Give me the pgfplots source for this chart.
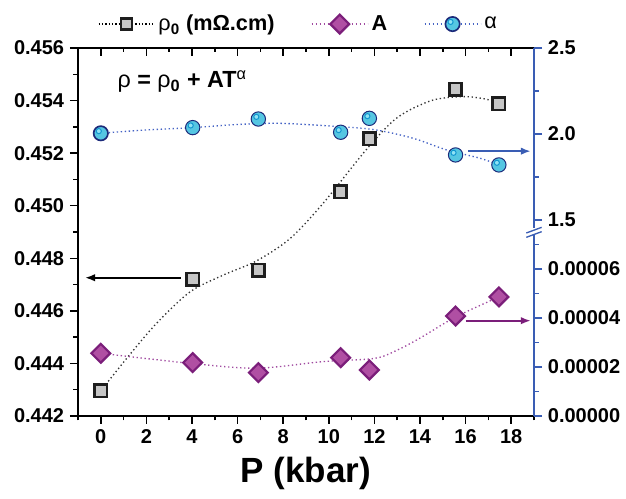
\documentclass[border=0pt]{standalone}
\usepackage{pgfplots}
\pgfplotsset{compat=1.18}
\usetikzlibrary{arrows.meta}
\usepackage{fontspec}
\setmainfont{Liberation Sans}
\definecolor{axblue}{HTML}{3A5DB4}
\definecolor{sqfill}{HTML}{C6C6C6}
\definecolor{sqdraw}{HTML}{1E1E1E}
\definecolor{dmfill}{HTML}{B04FA3}
\definecolor{dmdraw}{HTML}{7B1E7A}
\definecolor{cifill}{HTML}{55C6E2}
\definecolor{cidraw}{HTML}{1C2A7A}
\definecolor{cihi}{HTML}{1296D0}
\definecolor{cilight}{HTML}{8FE3F5}
\definecolor{alcurve}{HTML}{4462C4}
\definecolor{acurve}{HTML}{A04AA0}

\pgfdeclareplotmark{alph}{%
  \pgfpathcircle{\pgfpointorigin}{\pgfplotmarksize}%
  \pgfsetfillcolor{cifill}\pgfsetstrokecolor{cidraw}%
  \pgfusepath{fill,stroke}%
  \pgfsetlinewidth{0.6pt}%
  \pgfpathcircle{\pgfpoint{-0.28\pgfplotmarksize}{0.3\pgfplotmarksize}}{0.36\pgfplotmarksize}%
  \pgfsetfillcolor{cilight}\pgfsetstrokecolor{cihi}%
  \pgfusepath{fill,stroke}%
}

\tikzset{arr/.style={-{Latex[length=6pt,width=4.5pt]}, line width=1.1pt}}
\pgfplotsset{
  rhomark/.style={only marks, mark=square*, mark size=3.7pt, mark options={solid, fill=sqfill, draw=sqdraw, line width=1.6pt}},
  amark/.style={only marks, mark=square*, mark size=4.0pt, mark options={solid, rotate=45, fill=dmfill, draw=dmdraw, line width=1.3pt}},
  almark/.style={only marks, mark=alph, mark size=4.3pt, mark options={solid, line width=1.0pt}},
  dotline/.style={no marks, smooth, line width=0.8pt, dash pattern=on 0.8pt off 1.6pt},
  base/.style={width=273.6pt, scale only axis, xmin=-1, xmax=19,
    ticklabel style={font=\bfseries\fontsize{12}{14}\selectfont, black},
    /pgf/number format/assume math mode=true,
    scaled y ticks=false, major tick length=4.8pt, minor tick length=2.7pt,
    clip=false},
}

\begin{document}
\begin{tikzpicture}
\path[use as bounding box] (-46.8pt,-49.8pt) rectangle (328.8pt,249.6pt);

% main (left) axis
\begin{axis}[base, at={(0pt,0pt)}, anchor=south west, height=220.8pt,
  ymin=0.442, ymax=0.456,
  axis x line*=bottom, axis y line*=left,
  axis line style={black, line width=0.9pt, -},
  tick align=outside, tick style={black, line width=0.9pt},
  xtick={0,2,4,6,8,10,12,14,16,18}, minor xtick={-1,1,3,5,7,9,11,13,15,17,19},
  ytick={0.442,0.444,0.446,0.448,0.450,0.452,0.454,0.456},
  minor ytick={0.443,0.445,0.447,0.449,0.451,0.453,0.455},
  yticklabel style={/pgf/number format/.cd, fixed, fixed zerofill, precision=3},
  xlabel={P (kbar)},
  xlabel style={at={(axis description cs:0.5,-0.155)}, anchor=center, font=\bfseries\fontsize{21}{24}\selectfont},
  legend columns=3,
  legend style={at={(axis description cs:0.485,1.065)}, anchor=center, draw=none, fill=none,
    font=\bfseries\fontsize{13}{15}\selectfont, inner sep=0pt,
    /tikz/every even column/.append style={column sep=20pt}},
  legend cell align=left,
  legend image code/.code={\draw[mark repeat=2,mark phase=2] plot coordinates {(0pt,0pt)(16.8pt,0pt)(33.6pt,0pt)};},
]
\addlegendimage{black, line width=0.7pt, dash pattern=on 0.8pt off 1.2pt, mark=square*, mark size=3.4pt, mark options={solid, fill=sqfill, draw=sqdraw, line width=1.5pt}}
\addlegendentry{{\mdseries ρ}\textsubscript{0} (mΩ.cm)}
\addlegendimage{acurve, line width=0.7pt, dash pattern=on 0.8pt off 1.6pt, mark=square*, mark size=4.0pt, mark options={solid, rotate=45, fill=dmfill, draw=dmdraw, line width=1.3pt}}
\addlegendentry{A}
\addlegendimage{alcurve, line width=0.7pt, dash pattern=on 0.8pt off 1.6pt, mark=alph, mark size=4.3pt, mark options={solid, line width=1.0pt}}
\addlegendentry{{\mdseries α}}

\addplot[dotline, black!80, forget plot] coordinates {
(0,0.44296)(1.2,0.44426)(2.45,0.44553)(3.91,0.44672)(5.37,0.44736)(6.83,0.44790)(8.3,0.44875)(9.75,0.45009)(11.66,0.45215)(13.0,0.45335)(14.5,0.45400)(15.8,0.45415)(16.6,0.45410)(17.46,0.45394)};
\addplot[rhomark, forget plot] coordinates {
(0,0.44296)(4.03,0.44720)(6.91,0.44755)(10.52,0.45053)(11.78,0.45254)(15.56,0.45444)(17.46,0.45387)};
\draw[arr, black] (axis cs:3.5,0.44726) -- (axis cs:-0.69,0.44726);
\node[anchor=base west, inner sep=0pt, font=\bfseries\fontsize{14}{16}\selectfont] at (axis cs:0.72,0.45448)
  {{\mdseries ρ} = {\mdseries ρ}\textsubscript{0} + AT\textsuperscript{\mdseries α}};
\end{axis}

% top axis ticks
\begin{axis}[base, at={(0pt,0pt)}, anchor=south west, height=220.8pt,
  ymin=0, ymax=1, axis y line=none, axis x line*=top,
  axis line style={black, line width=0.9pt, -},
  tick align=inside, tick style={black, line width=0.9pt},
  xtick={0,2,4,6,8,10,12,14,16,18}, minor xtick={-1,1,3,5,7,9,11,13,15,17,19},
  xticklabels={}]
\end{axis}

% lower right axis (A)
\begin{axis}[base, at={(0pt,0pt)}, anchor=south west, height=110.4pt,
  ymin=0, ymax=7.51e-5, axis x line=none, axis y line*=right,
  axis line style={axblue, line width=0.9pt, -},
  tick align=outside, tick style={axblue, line width=0.9pt},
  ytick={0,2e-5,4e-5,6e-5}, minor ytick={1e-5,3e-5,5e-5,7e-5},
  yticklabel style={/pgf/number format/.cd, fixed, fixed zerofill, precision=5}]
\addplot[dotline, acurve] coordinates {
(0,2.56e-5)(3.91,2.15e-5)(6.83,1.95e-5)(9.75,2.22e-5)(12.0,2.35e-5)(13.0,2.69e-5)(14.0,3.18e-5)(15.56,4.04e-5)(17.46,4.86e-5)};
\addplot[amark] coordinates {
(0,2.56e-5)(4.03,2.18e-5)(6.91,1.77e-5)(10.52,2.38e-5)(11.78,1.88e-5)(15.56,4.08e-5)(17.46,4.86e-5)};
\draw[arr, dmdraw] (axis cs:16.0,3.89e-5) -- (axis cs:18.86,3.89e-5);
\end{axis}

% upper right axis (alpha)
\begin{axis}[base, at={(0pt,110.4pt)}, anchor=south west, height=110.4pt,
  ymin=1.43, ymax=2.5, axis x line=none, axis y line*=right,
  axis line style={axblue, line width=0.9pt, -},
  tick align=outside, tick style={axblue, line width=0.9pt},
  ytick={1.5,2.0,2.5}, minor ytick={1.75,2.25},
  yticklabel style={/pgf/number format/.cd, fixed, fixed zerofill, precision=1}]
\addplot[dotline, alcurve] coordinates {
(0,2.004)(1.95,2.023)(4.03,2.037)(6.0,2.055)(7.86,2.062)(10.2,2.045)(12.0,2.025)(13.7,1.975)(15.17,1.907)(16.63,1.859)(17.46,1.820)};
\addplot[almark] coordinates {
(0,2.004)(4.03,2.037)(6.91,2.087)(10.52,2.010)(11.78,2.091)(15.56,1.878)(17.46,1.820)};
\draw[arr, axblue] (axis cs:16.1,1.90) -- (axis cs:18.86,1.90);
\end{axis}

% axis break mark
\fill[white] (271.6pt,108.4pt) rectangle (275.6pt,112.8pt);
\draw[axblue, line width=0.8pt] (269pt,107.2pt) -- (278.2pt,110.6pt);
\draw[axblue, line width=0.8pt] (269pt,109.8pt) -- (278.2pt,113.2pt);
\end{tikzpicture}
\end{document}
